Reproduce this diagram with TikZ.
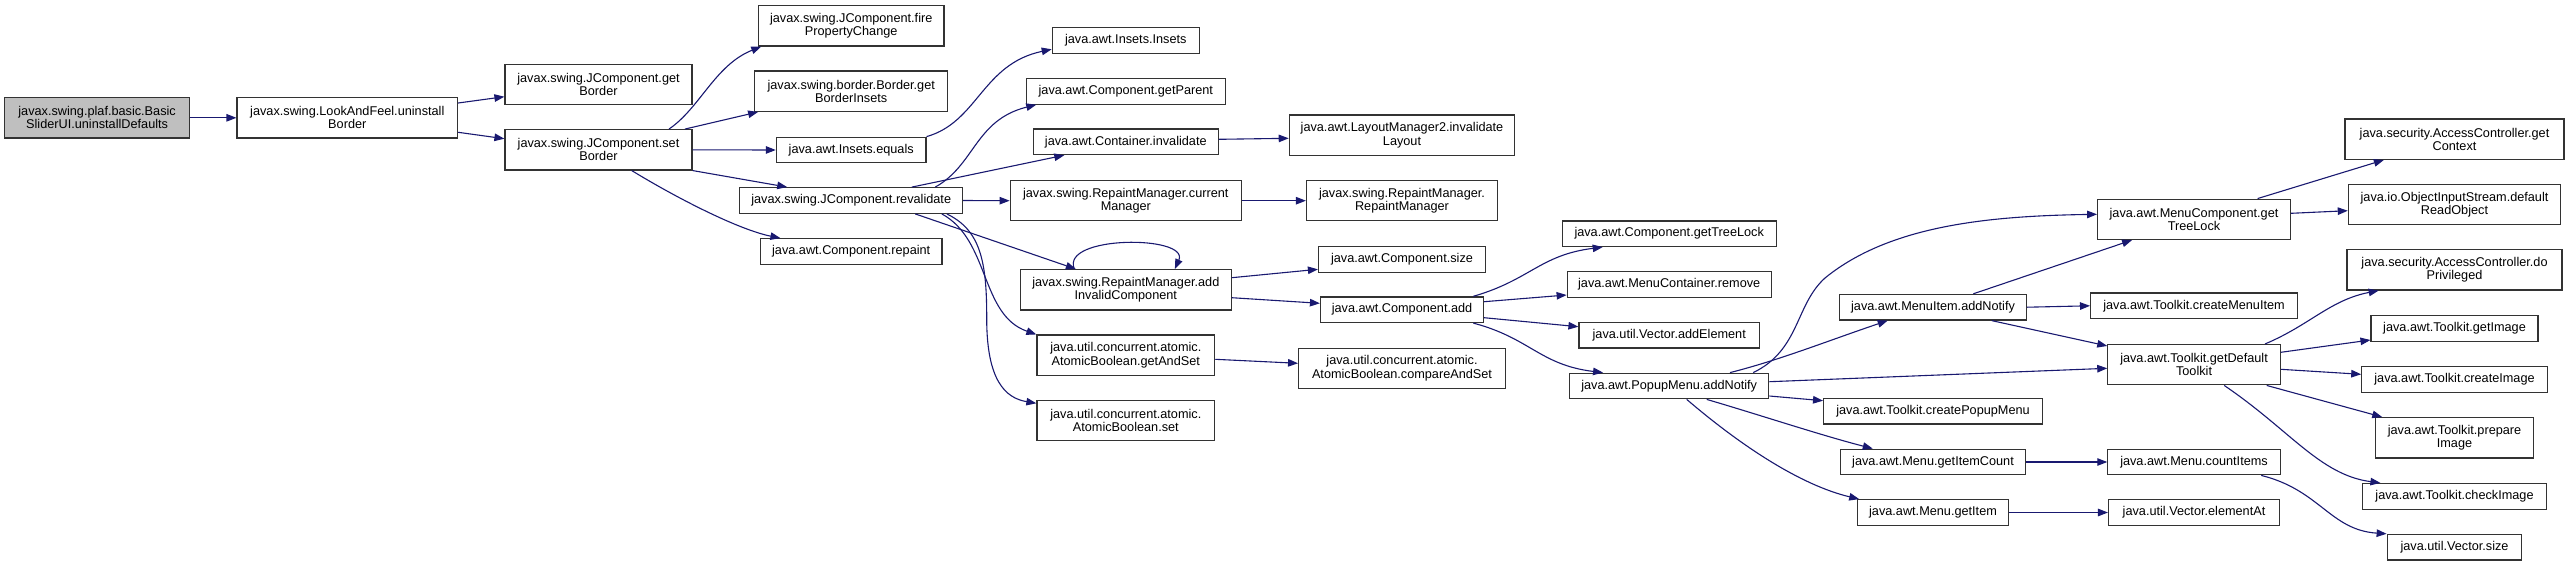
\documentclass[tikz,border=0pt]{standalone}
\usepackage{fontspec}
\setmainfont{Liberation Sans}
\usetikzlibrary{arrows.meta}
\definecolor{edgeblue}{HTML}{191970}
\definecolor{rootgray}{HTML}{BFBFBF}
\definecolor{boxline}{HTML}{333333}
\tikzset{
  box/.style={draw=boxline, line width=1.2pt, fill=white, align=center, inner xsep=2pt, inner ysep=1pt, font=\fontsize{12.7}{13.3}\selectfont},
  one/.style={box, minimum height=25.6pt},
  two/.style={box, minimum height=40.3pt},
  rootbox/.style={two, fill=rootgray},
  call/.style={draw=edgeblue, line width=1.1pt, -{Triangle[length=10pt,width=7.5pt]}}
}
\begin{document}
\begin{tikzpicture}[x=1pt,y=-1pt]
\useasboundingbox (0,0) rectangle (2569,566);
% column 1-3
\node[rootbox, minimum width=185pt] (root) at (97.1,117.8) {javax.swing.plaf.basic.Basic\\SliderUI.uninstallDefaults};
\node[two, minimum width=220.5pt] (laf) at (347.3,117.8) {javax.swing.LookAndFeel.uninstall\\Border};
\node[two, minimum width=187pt] (getb) at (598.5,84.5) {javax.swing.JComponent.get\\Border};
\node[two, minimum width=187pt] (setb) at (598.5,149.8) {javax.swing.JComponent.set\\Border};
% column 4
\node[two, minimum width=185.7pt] (fire) at (851.2,25.8) {javax.swing.JComponent.fire\\PropertyChange};
\node[two, minimum width=193pt] (gbi) at (851.2,91.2) {javax.swing.border.Border.get\\BorderInsets};
\node[one, minimum width=149.6pt] (ieq) at (851.2,150) {java.awt.Insets.equals};
\node[one, minimum width=222.8pt] (reval) at (851.2,200.5) {javax.swing.JComponent.revalidate};
\node[one, minimum width=181.7pt] (repaint) at (851.2,251.5) {java.awt.Component.repaint};
% column 5
\node[one, minimum width=147pt] (ins) at (1125.8,40.5) {java.awt.Insets.Insets};
\node[one, minimum width=198.7pt] (gpar) at (1125.8,91.3) {java.awt.Component.getParent};
\node[one, minimum width=184.8pt] (cinv) at (1125.8,141.8) {java.awt.Container.invalidate};
\node[two, minimum width=231.2pt] (curm) at (1125.8,200.7) {javax.swing.RepaintManager.current\\Manager};
\node[two, minimum width=210.7pt] (aic) at (1125.8,289.8) {javax.swing.RepaintManager.add\\InvalidComponent};
\node[two, minimum width=177.7pt] (gas) at (1125.8,355.2) {java.util.concurrent.atomic.\\AtomicBoolean.getAndSet};
\node[two, minimum width=177.7pt] (abset) at (1125.8,420.5) {java.util.concurrent.atomic.\\AtomicBoolean.set};
% column 6
\node[two, minimum width=225.4pt] (lm2) at (1402,135.2) {java.awt.LayoutManager2.invalidate\\Layout};
\node[two, minimum width=191pt] (rmrm) at (1402,200.7) {javax.swing.RepaintManager.\\RepaintManager};
\node[one, minimum width=167pt] (csize) at (1402,259.3) {java.awt.Component.size};
\node[one, minimum width=163pt] (cadd) at (1402,309.7) {java.awt.Component.add};
\node[two, minimum width=206.7pt] (cas) at (1402,368.3) {java.util.concurrent.atomic.\\AtomicBoolean.compareAndSet};
% column 7
\node[one, minimum width=213.8pt] (gtl) at (1669.2,233.7) {java.awt.Component.getTreeLock};
\node[one, minimum width=204pt] (mcr) at (1669.2,284.5) {java.awt.MenuContainer.remove};
\node[one, minimum width=180.4pt] (vae) at (1669.2,335.2) {java.util.Vector.addElement};
\node[one, minimum width=199.1pt] (pman) at (1669.2,386) {java.awt.PopupMenu.addNotify};
% column 8
\node[one, minimum width=186.6pt] (mian) at (1933,307.2) {java.awt.MenuItem.addNotify};
\node[one, minimum width=218.8pt] (cpm) at (1933,411.2) {java.awt.Toolkit.createPopupMenu};
\node[one, minimum width=185.3pt] (gic) at (1933,462) {java.awt.Menu.getItemCount};
\node[one, minimum width=150.4pt] (gi) at (1933,512.5) {java.awt.Menu.getItem};
% column 9
\node[two, minimum width=192.7pt] (mcgtl) at (2194,219.3) {java.awt.MenuComponent.get\\TreeLock};
\node[one, minimum width=206.8pt] (cmi) at (2194,305.8) {java.awt.Toolkit.createMenuItem};
\node[two, minimum width=172.3pt] (gdt) at (2194,364.7) {java.awt.Toolkit.getDefault\\Toolkit};
\node[one, minimum width=172.3pt] (ci) at (2194,462) {java.awt.Menu.countItems};
\node[one, minimum width=170.9pt] (ea) at (2194,512.5) {java.util.Vector.elementAt};
% column 10
\node[two, minimum width=219.1pt] (gctx) at (2454.5,139.2) {java.security.AccessController.get\\Context};
\node[two, minimum width=212.3pt] (dro) at (2454.5,204.5) {java.io.ObjectInputStream.default\\ReadObject};
\node[two, minimum width=215.1pt] (dop) at (2454.5,269.8) {java.security.AccessController.do\\Privileged};
\node[one, minimum width=166.9pt] (gimg) at (2454.5,328.5) {java.awt.Toolkit.getImage};
\node[one, minimum width=185.4pt] (cimg) at (2454.5,379.5) {java.awt.Toolkit.createImage};
\node[two, minimum width=157.9pt] (pimg) at (2454.5,437.8) {java.awt.Toolkit.prepare\\Image};
\node[one, minimum width=184pt] (chk) at (2454.5,496.3) {java.awt.Toolkit.checkImage};
\node[one, minimum width=134.6pt] (vsz) at (2454.5,547.2) {java.util.Vector.size};
% edges
\draw[call] (root.east) -- (laf.west);
\draw[call] ([yshift=14.8pt]laf.east) -- ([yshift=-12.2pt]getb.west);
\draw[call] ([yshift=-14.5pt]laf.east) -- ([yshift=11.1pt]setb.west);
\draw[call] ([xshift=70.5pt]setb.north) .. controls (700,108) and (715,65) .. ([xshift=3.5pt]fire.south west);
\draw[call] ([xshift=86.5pt]setb.north) -- ([xshift=4pt]gbi.south west);
\draw[call] (setb.east) -- (ieq.west);
\draw[call] (setb.south east) -- ([xshift=-64pt]reval.north);
\draw[call] ([xshift=33.2pt]setb.south) .. controls (680,200) and (740,230) .. ([xshift=-70.8pt]repaint.north);
\draw[call] (ieq.north east) .. controls (978,122) and (982,64) .. ([yshift=-8.8pt]ins.west);
\draw[call] ([xshift=84pt]reval.north) .. controls (975,165) and (975,120) .. ([xshift=10.4pt]gpar.south west);
\draw[call] ([xshift=60.6pt]reval.north) -- ([xshift=31.5pt]cinv.south west);
\draw[call] (reval.east) -- (curm.west);
\draw[call] ([xshift=64pt]reval.south) -- ([xshift=56pt]aic.north west);
\draw[call] ([xshift=90.6pt]reval.south) .. controls (990,240) and (980,315) .. (gas.north west);
\draw[call] ([xshift=95.6pt]reval.south) .. controls (980,230) and (987,260) .. (986.7,320) .. controls (987,380) and (1005,398) .. ([yshift=17.2pt]abset.west);
\draw[call] ([yshift=2.5pt]cinv.east) -- ([yshift=-3.1pt]lm2.west);
\draw[call] (curm.east) -- (rmrm.west);
\draw[call] ([xshift=54.5pt]aic.north west) .. controls (1060,235) and (1190,235) .. ([xshift=155pt]aic.north west);
\draw[call] ([yshift=12.1pt]aic.east) -- ([yshift=-10pt]csize.west);
\draw[call] ([yshift=-7.9pt]aic.east) -- ([yshift=6.4pt]cadd.west);
\draw[call] ([yshift=-4.1pt]gas.east) -- ([yshift=5pt]cas.west);
\draw[call] ([xshift=71.3pt]cadd.north) .. controls (1530,280) and (1540,255) .. ([xshift=41pt]gtl.south west);
\draw[call] ([yshift=8pt]cadd.east) -- ([yshift=-10.5pt]mcr.west);
\draw[call] ([yshift=-8pt]cadd.east) -- ([yshift=8.5pt]vae.west);
\draw[call] ([xshift=71.3pt]cadd.south) .. controls (1530,338) and (1540,365) .. ([xshift=34pt]pman.north west);
\draw[call] ([xshift=84pt]pman.north) .. controls (1800,350) and (1795,305) .. (1825,278) .. controls (1890,225) and (1990,216) .. ([yshift=5pt]mcgtl.west);
\draw[call] ([xshift=60.8pt]pman.north) .. controls (1780,360) and (1830,340) .. ([xshift=48.6pt]mian.south west);
\draw[call] ([yshift=4.3pt]pman.east) -- ([yshift=-3.6pt]gdt.west);
\draw[call] ([yshift=-10pt]pman.east) -- ([yshift=10.5pt]cpm.west);
\draw[call] ([xshift=37.5pt]pman.south) .. controls (1760,415) and (1820,435) .. ([xshift=33pt]gic.north west);
\draw[call] ([xshift=17.5pt]pman.south) .. controls (1740,445) and (1800,485) .. ([xshift=2pt]gi.north west);
\draw[call] ([xshift=40.3pt]mian.north) -- ([xshift=35pt]mcgtl.south west);
\draw[call] (mian.east) -- (cmi.west);
\draw[call] ([xshift=58.7pt]mian.south) -- ([yshift=-2pt]gdt.north west);
\draw[call] (gic.east) -- (ci.west);
\draw[call] (gi.east) -- (ea.west);
\draw[call] ([xshift=63.6pt]mcgtl.north) -- ([xshift=39.5pt]gctx.south west);
\draw[call] ([yshift=6pt]mcgtl.east) -- ([yshift=-6.2pt]dro.west);
\draw[call] ([xshift=71pt]gdt.north) .. controls (2310,325) and (2330,300) .. ([xshift=32.3pt]dop.south west);
\draw[call] ([yshift=12.4pt]gdt.east) -- ([yshift=-11.5pt]gimg.west);
\draw[call] ([yshift=-4.6pt]gdt.east) -- ([yshift=5.2pt]cimg.west);
\draw[call] ([xshift=72.7pt]gdt.south) -- ([xshift=7.3pt]pimg.north west);
\draw[call] ([xshift=30.2pt]gdt.south) .. controls (2290,430) and (2320,475) .. ([xshift=18.5pt]chk.north west);
\draw[call] ([xshift=67.2pt]ci.south) .. controls (2320,490) and (2330,530) .. (vsz.north west);
\end{tikzpicture}
\end{document}
